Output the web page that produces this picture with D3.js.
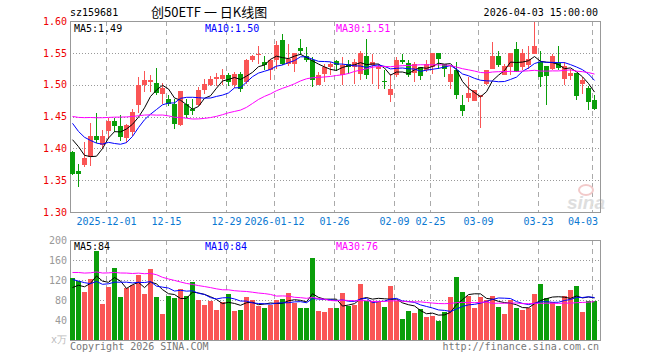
<!DOCTYPE html>
<html><head><meta charset="utf-8">
<script src="https://cdn.jsdelivr.net/npm/d3@7"></script>
<style>body{margin:0;background:#fff}svg{display:block}</style>
</head><body><svg id="c" width="660" height="360"></svg>
<script>
const dates = [
"2025-11-21","2025-11-24","2025-11-25","2025-11-26","2025-11-27","2025-11-28",
"2025-12-01","2025-12-02","2025-12-03","2025-12-04","2025-12-05",
"2025-12-08","2025-12-09","2025-12-10","2025-12-11","2025-12-12",
"2025-12-15","2025-12-16","2025-12-17","2025-12-18","2025-12-19",
"2025-12-22","2025-12-23","2025-12-24","2025-12-25","2025-12-26",
"2025-12-29","2025-12-30","2025-12-31",
"2026-01-05","2026-01-06","2026-01-07","2026-01-08","2026-01-09",
"2026-01-12","2026-01-13","2026-01-14","2026-01-15","2026-01-16",
"2026-01-19","2026-01-20","2026-01-21","2026-01-22","2026-01-23",
"2026-01-26","2026-01-27","2026-01-28","2026-01-29","2026-01-30",
"2026-02-02","2026-02-03","2026-02-04","2026-02-05","2026-02-06",
"2026-02-09","2026-02-10","2026-02-11","2026-02-12","2026-02-13",
"2026-02-24","2026-02-25","2026-02-26","2026-02-27",
"2026-03-02","2026-03-03","2026-03-04","2026-03-05","2026-03-06",
"2026-03-09","2026-03-10","2026-03-11","2026-03-12","2026-03-13",
"2026-03-16","2026-03-17","2026-03-18","2026-03-19","2026-03-20",
"2026-03-23","2026-03-24","2026-03-25","2026-03-26","2026-03-27",
"2026-03-30","2026-03-31","2026-04-01","2026-04-02","2026-04-03"];

const opens = [1.394,1.365,1.374,1.386,1.420,1.405,1.427,1.443,1.435,1.416,
1.426,1.468,1.499,1.504,1.5025,1.486,1.478,1.470,1.4365,1.470,
1.462,1.4677,1.492,1.500,1.509,1.509,1.5145,1.499,1.517,1.5042,
1.538,1.547,1.5354,1.5224,1.538,1.5708,1.5328,1.5328,1.5578,1.5458,
1.538,1.499,1.5172,1.5276,1.537,1.5146,1.5328,1.5276,1.5172,1.5458,
1.5302,1.525,1.506,1.4833,1.5146,1.5391,1.5344,1.5182,1.5276,1.5224,
1.5276,1.5495,1.5328,1.5042,1.5224,1.4677,1.4792,1.474,1.4807,1.5016,
1.525,1.5458,1.5146,1.5276,1.5562,1.5276,1.5302,1.5484,1.5354,1.5286,
1.525,1.5344,1.5094,1.513,1.5182,1.5016,1.4953,1.4766];

const highs = [1.396,1.375,1.410,1.440,1.455,1.429,1.447,1.447,1.452,1.439,
1.461,1.512,1.522,1.515,1.526,1.502,1.483,1.478,1.490,1.478,
1.478,1.496,1.509,1.514,1.518,1.525,1.5185,1.5198,1.520,1.5406,
1.547,1.560,1.5458,1.5406,1.5693,1.5797,1.5641,1.550,1.5719,1.5599,
1.5432,1.5198,1.5328,1.5354,1.539,1.5432,1.538,1.5406,1.5536,1.5719,
1.5484,1.5328,1.5224,1.5172,1.5432,1.5484,1.538,1.5354,1.5276,1.538,
1.550,1.5495,1.5328,1.530,1.5354,1.4833,1.512,1.4922,1.484,1.5234,
1.5667,1.5536,1.5328,1.550,1.5667,1.5562,1.5615,1.598,1.5536,1.5286,
1.5484,1.5615,1.5354,1.525,1.5182,1.512,1.4974,1.4833];

const lows = [1.358,1.340,1.370,1.372,1.408,1.399,1.414,1.425,1.412,1.408,
1.420,1.456,1.488,1.488,1.483,1.469,1.466,1.430,1.435,1.448,
1.452,1.466,1.485,1.4985,1.4985,1.500,1.498,1.4955,1.489,1.5016,
1.535,1.5328,1.5224,1.5068,1.525,1.5302,1.530,1.5198,1.5469,1.535,
1.4964,1.499,1.5042,1.5146,1.522,1.499,1.5172,1.5016,1.5068,1.5094,
1.5016,1.4938,1.4938,1.4729,1.512,1.5328,1.512,1.5042,1.508,1.5198,
1.5172,1.525,1.512,1.4938,1.478,1.4505,1.4729,1.474,1.4313,1.499,
1.525,1.5276,1.5146,1.5146,1.5198,1.5224,1.525,1.5484,1.4964,1.4677,
1.5224,1.5224,1.499,1.5068,1.4755,1.4859,1.46,1.4599];

const closes = [1.360,1.360,1.385,1.420,1.413,1.420,1.443,1.435,1.418,1.436,
1.457,1.499,1.508,1.507,1.487,1.494,1.470,1.4375,1.4895,1.452,
1.458,1.492,1.5016,1.509,1.5118,1.5145,1.504,1.517,1.4935,1.538,
1.5443,1.5484,1.5302,1.538,1.563,1.5328,1.5406,1.5495,1.5526,1.538,
1.5068,1.5146,1.5276,1.5328,1.5302,1.5302,1.5276,1.5354,1.5495,1.5146,
1.5354,1.527,1.504,1.4938,1.5391,1.5354,1.5146,1.5328,1.513,1.5328,
1.5495,1.5406,1.525,1.5172,1.4833,1.4589,1.487,1.4922,1.483,1.5234,
1.5458,1.5302,1.5286,1.5495,1.5198,1.5495,1.5406,1.5615,1.512,1.513,
1.5458,1.526,1.5286,1.5182,1.4823,1.5068,1.4729,1.4615];

const volumes = [124.7,118.7,96.7,122,178.7,72.7,106.7,144.7,86.7,104.7,
110,130,92.7,142,86.7,52.7,88.7,84.7,102,88,
116,80,70,78.7,60,75.3,92.7,58.7,60,86,
80,68.7,64.7,70.7,80.7,82,94.7,74.7,64.7,64.7,
164,58,57,64.7,64.7,94.7,68.7,70.7,112,78.7,
78.7,76.7,66,108,78.7,42,58,54,62,46.7,
48,38,56.7,86.7,126,96,88.7,64.7,86,80.7,
88,66.7,52.7,80,64.7,60,64.7,92.7,112,84,
76,68,88,100,108,56.7,78,78];

// estimated closes/volumes of the 29 sessions before the visible window (for MA warm-up)
const priorCloses = [1.405,1.398,1.412,1.425,1.418,1.430,1.422,1.415,1.428,1.437,
1.462,1.478,1.495,1.502,1.488,1.510,1.505,1.497,1.490,1.493,
1.488,1.476,1.470,1.455,1.436,1.415,1.453,1.430,1.410];
const priorVolumes = [118,132,105,126,140,98,115,122,110,135,108,128,123,
165,210,188,172,195,176,174,150,128,142,135,130,96,112,88,104];

const priceTicks = [1.30,1.35,1.40,1.45,1.50,1.55,1.60];
const volTicks = [40,80,120,160,200];
const xTickDates = ["2025-12-01","2025-12-15","2025-12-29","2026-01-12","2026-01-26","2026-02-09","2026-02-25","2026-03-09","2026-03-23","2026-04-03"];
const xTickLabels = ["2025-12-01","12-15","12-29","2026-01-12","01-26","02-09","02-25","03-09","03-23","04-03"];
const maPeriods = [5,10,30];
const maNames = ["MA5","MA10","MA30"];
const legendPrice = ["1.49","1.50","1.51"];
const legendVol = ["84","84","76"];

const UP = "#fa5555", DOWN = "#0a9e0a";
const MA_COL = ["#000000","#0000ff","#ff00ff"];
const MONO = "'DejaVu Sans Mono', monospace";

const svg = d3.select("#c");
const L = 70, R = 600, T1 = 21, B1 = 212, T2 = 240, B2 = 340;

const x = d3.scaleBand().domain(dates).range([L, 597]).paddingInner(1/6).paddingOuter(0);
const xb = d => Math.round(x(d));
const yP = d3.scaleLinear().domain([1.30, 1.60]).range([B1, T1]);
const yV = d3.scaleLinear().domain([0, 200]).range([B2, T2]);

function movingAvg(series, prior, n) {
  const all = prior.concat(series);
  const off = prior.length;
  return series.map((_, i) => {
    const end = off + i;
    const slice = all.slice(Math.max(0, end - n + 1), end + 1);
    return d3.mean(slice);
  });
}

// grid
const grid = svg.append("g");
[[T1, B1], [T2, B2]].forEach(([t, b]) => {
  xTickDates.forEach(d => {
    grid.append("line").attr("x1", xb(d) + 0.5).attr("x2", xb(d) + 0.5)
      .attr("y1", t).attr("y2", b).attr("stroke", "#aaa").attr("stroke-dasharray", "5,4");
  });
});
priceTicks.slice(1, -1).forEach(v => {
  const yy = Math.round(yP(v)) + 0.5;
  grid.append("line").attr("x1", L).attr("x2", R).attr("y1", yy).attr("y2", yy)
    .attr("stroke", "#999").attr("stroke-dasharray", "1,2");
});
volTicks.slice(0, -1).forEach(v => {
  const yy = Math.round(yV(v)) + 0.5;
  grid.append("line").attr("x1", L).attr("x2", R).attr("y1", yy).attr("y2", yy)
    .attr("stroke", "#999").attr("stroke-dasharray", "1,2");
});

// watermark
const wm = svg.append("g");
wm.append("ellipse").attr("cx", 586).attr("cy", 190).attr("rx", 7).attr("ry", 5)
  .attr("fill", "none").attr("stroke", "#f2caca").attr("stroke-width", 2);
wm.append("text").attr("x", 567).attr("y", 209).text("sina")
  .attr("font-family", "'Liberation Sans', Arial, sans-serif").attr("font-weight", "bold")
  .attr("font-style", "italic").attr("font-size", 19).attr("fill", "#dedede");

// frames
svg.append("rect").attr("x", L + 0.5).attr("y", T1 + 0.5).attr("width", R - L).attr("height", B1 - T1)
  .attr("fill", "none").attr("stroke", "#999");
svg.append("rect").attr("x", L + 0.5).attr("y", T2 + 0.5).attr("width", R - L).attr("height", B2 - T2)
  .attr("fill", "none").attr("stroke", "#999");

// candles
const cg = svg.append("g");
dates.forEach((d, i) => {
  const o = opens[i], c = closes[i];
  const col = c >= o ? UP : DOWN;
  const x0 = xb(d);
  cg.append("line").attr("x1", x0 + 2.5).attr("x2", x0 + 2.5)
    .attr("y1", Math.round(yP(highs[i]))).attr("y2", Math.round(yP(lows[i])))
    .attr("stroke", col);
  const yt = Math.round(yP(Math.max(o, c))), ybt = Math.round(yP(Math.min(o, c)));
  cg.append("rect").attr("x", x0).attr("y", yt).attr("width", 5)
    .attr("height", Math.max(1, ybt - yt)).attr("fill", col);
  // volume
  const vt = Math.round(yV(volumes[i]));
  cg.append("rect").attr("x", x0).attr("y", vt).attr("width", 5)
    .attr("height", B2 - vt).attr("fill", col);
});

// MA lines
maPeriods.forEach((n, j) => {
  const mp = movingAvg(closes, priorCloses, n);
  const mv = movingAvg(volumes, priorVolumes, n);
  const lp = d3.line().x((v, i) => xb(dates[i]) + 2.5).y(v => yP(v));
  const lv = d3.line().x((v, i) => xb(dates[i]) + 2.5).y(v => yV(v));
  svg.append("path").attr("d", lp(mp)).attr("fill", "none").attr("stroke", MA_COL[j]).attr("stroke-width", 1);
  svg.append("path").attr("d", lv(mv)).attr("fill", "none").attr("stroke", MA_COL[j]).attr("stroke-width", 1);
});

// legends
const legX = [74, 205, 336];
maNames.forEach((nm, j) => {
  svg.append("text").attr("x", legX[j]).attr("y", T1 + 11).text(nm + ":" + legendPrice[j])
    .attr("font-family", MONO).attr("font-size", 10).attr("fill", MA_COL[j]);
  svg.append("text").attr("x", legX[j]).attr("y", T2 + 10).text(nm + ":" + legendVol[j])
    .attr("font-family", MONO).attr("font-size", 10).attr("fill", MA_COL[j]);
});

// y axes
const ayP = svg.append("g").attr("transform", `translate(${L - 3},0)`)
  .call(d3.axisLeft(yP).tickValues(priceTicks).tickFormat(d3.format(".2f")).tickSize(0).tickPadding(0));
ayP.select(".domain").remove();
ayP.selectAll("text").attr("font-family", MONO).attr("font-size", 10).attr("fill", "#ee0000");
const ayV = svg.append("g").attr("transform", `translate(${L - 3},0)`)
  .call(d3.axisLeft(yV).tickValues(volTicks).tickFormat(d3.format("d")).tickSize(0).tickPadding(0));
ayV.select(".domain").remove();
ayV.selectAll("text").attr("font-family", MONO).attr("font-size", 10).attr("fill", "#999");
svg.append("text").attr("x", L - 3).attr("y", B2 + 3).attr("text-anchor", "end").text("x万")
  .attr("font-family", MONO).attr("font-size", 10).attr("fill", "#bbb");

// x labels
xTickDates.forEach((d, i) => {
  const cx = xb(d) + 0.5;
  const t = svg.append("text").attr("y", 225).text(xTickLabels[i])
    .attr("font-family", MONO).attr("font-size", 10).attr("fill", "#0a78d2");
  const w = xTickLabels[i].length * 6.02;
  if (cx + w / 2 > R) t.attr("x", R - 2).attr("text-anchor", "end");
  else t.attr("x", cx).attr("text-anchor", "middle");
});

// header
svg.append("text").attr("x", 70).attr("y", 16).text("sz159681")
  .attr("font-family", MONO).attr("font-size", 10).attr("fill", "#000");
svg.append("text").attr("x", 151).attr("y", 17).text("创50ETF 一 日K线图")
  .attr("font-family", "'Noto Sans CJK SC', sans-serif").attr("font-size", 13).attr("fill", "#000");
svg.append("text").attr("x", 598).attr("y", 16).attr("text-anchor", "end").text("2026-04-03 15:00:00")
  .attr("font-family", MONO).attr("font-size", 10).attr("fill", "#000");

// footer
svg.append("text").attr("x", 70).attr("y", 350).text("Copyright 2026 SINA.COM")
  .attr("font-family", MONO).attr("font-size", 10).attr("fill", "#777");
svg.append("text").attr("x", 599).attr("y", 350).attr("text-anchor", "end").text("http://finance.sina.com.cn")
  .attr("font-family", MONO).attr("font-size", 10).attr("fill", "#777");
</script>
</body></html>
